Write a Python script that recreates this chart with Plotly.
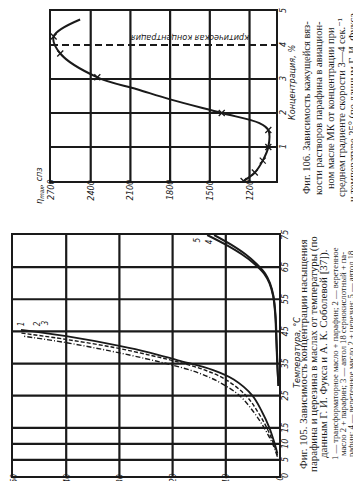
import plotly.graph_objects as go

# ---------------- Fig. 106: apparent viscosity vs paraffin concentration ----------------
conc106 = [0.0, 0.25, 0.6, 1.0, 1.5, 1.7, 2.0, 2.4, 2.7, 3.05, 3.75, 4.25, 4.75]
visc106 = [1245, 1160, 1100, 1058, 1058, 1125, 1410, 1800, 2050, 2350, 2630, 2680, 2480]
mark_conc106 = [0.0, 0.25, 0.6, 1.0, 1.5, 2.0, 3.05, 3.75, 4.25]
mark_visc106 = [1245, 1160, 1100, 1058, 1058, 1410, 2350, 2630, 2680]
visc_ticks = [2700, 2400, 2100, 1800, 1500, 1200]
conc106_ticks = [1, 2, 3, 4, 5]
critical_conc = 4

# ---------------- Fig. 105: saturation concentration vs temperature ----------------
temp_1 = [7, 10, 15, 20, 25, 30, 33, 36, 38.5, 40.5, 43.5, 45.5]
conc_1 = [0.3, 0.8, 1.8, 3.2, 5.0, 8.5, 12.5, 19, 24.5, 30, 40, 48.5]
temp_2 = [6.5, 10, 15, 20, 25, 30, 33, 35.5, 37.5, 40, 42.5, 44.5]
conc_2 = [0.3, 1.0, 2.3, 4.0, 6.2, 10, 14, 19, 24, 31, 40, 48.5]
temp_3 = [6, 10, 15, 20, 25, 29, 32, 34.5, 36.5, 39, 41.5, 43.5]
conc_3 = [0.3, 1.2, 2.8, 4.8, 7.4, 11, 15, 20, 25, 32, 40, 48]
temp_4 = [28, 34, 42, 50, 56, 60, 63, 66, 69, 72, 75]
conc_4 = [0.1, 0.3, 0.5, 0.7, 1.1, 1.8, 2.8, 4.6, 7.0, 10.0, 13.5]
temp_5 = [28, 34, 42, 50, 56, 60, 63, 66, 69, 72, 75]
conc_5 = [0.1, 0.28, 0.45, 0.65, 1.05, 1.7, 2.6, 4.2, 6.3, 9.0, 12.2]
temp_ticks = [0, 5, 10, 15, 25, 35, 45, 55, 65, 75]
conc105_ticks = [0, 10, 20, 30, 40, 50]

INK = "#1a1a1a"
NARROW = "Liberation Sans Narrow, DejaVu Sans Condensed, sans-serif"
SERIF = "Liberation Serif, DejaVu Serif, serif"
TICKFONT = dict(family=NARROW, size=9, color=INK, style="italic")

W, H = 361, 481
def px(x):
    return x / W
def py(y):
    return 1 - y / H

F105 = dict(x0=5, x1=271, y0=227, y1=468)
F106 = dict(x0=43, x1=268, y0=3, y1=173)

fig = go.Figure()

def grid_trace(xs, ys, xa, ya, width=2.2):
    fig.add_trace(go.Scatter(x=xs, y=ys, mode="lines", xaxis=xa, yaxis=ya, hoverinfo="skip",
                             line=dict(color=INK, width=width), showlegend=False))

# Fig 105 grid
gx, gy = [], []
for v in [10, 20, 30, 40]:
    gx += [v, v, None]; gy += [0, 75, None]
for v in [5, 10, 15, 25, 35, 45, 55, 65]:
    gx += [50, 0, None]; gy += [v, v, None]
grid_trace(gx, gy, "x", "y")
# Fig 106 grid
gx, gy = [], []
for v in [2400, 2100, 1800, 1500, 1200]:
    gx += [v, v, None]; gy += [0, 5, None]
for v in [1, 2, 3]:
    gx += [2700, 1000, None]; gy += [v, v, None]
grid_trace(gx, gy, "x2", "y2")

# Fig 105 curves
fig.add_trace(go.Scatter(x=conc_1, y=temp_1, mode="lines", line=dict(color=INK, width=1.8, shape="spline"),
                         xaxis="x", yaxis="y", showlegend=False))
fig.add_trace(go.Scatter(x=conc_2, y=temp_2, mode="lines", line=dict(color=INK, width=1.4, dash="4px,2px", shape="spline"),
                         xaxis="x", yaxis="y", showlegend=False))
fig.add_trace(go.Scatter(x=conc_3, y=temp_3, mode="lines", line=dict(color=INK, width=1.4, dash="5px,2px,1px,2px", shape="spline"),
                         xaxis="x", yaxis="y", showlegend=False))
fig.add_trace(go.Scatter(x=conc_4, y=temp_4, mode="lines", line=dict(color=INK, width=2.0, shape="spline"),
                         xaxis="x", yaxis="y", showlegend=False))
fig.add_trace(go.Scatter(x=conc_5, y=temp_5, mode="lines", line=dict(color=INK, width=2.0, shape="spline"),
                         xaxis="x", yaxis="y", showlegend=False))

# Fig 106 curve
fig.add_trace(go.Scatter(x=visc106, y=conc106, mode="lines", line=dict(color=INK, width=2.0, shape="spline"),
                         xaxis="x2", yaxis="y2", showlegend=False))
fig.add_trace(go.Scatter(x=mark_visc106, y=mark_conc106, mode="markers",
                         marker=dict(symbol="x-thin", size=6, line=dict(color=INK, width=1.3)),
                         xaxis="x2", yaxis="y2", showlegend=False))

axis_common = dict(showline=True, linecolor=INK, linewidth=2.4, mirror=True,
                   showgrid=False, zeroline=False, showticklabels=False, ticks="")

fig.update_layout(
    width=W, height=H,
    margin=dict(l=0, r=0, t=0, b=0),
    paper_bgcolor="white", plot_bgcolor="white",
    xaxis=dict(domain=[px(F105["x0"]), px(F105["x1"])], range=[50, 0], anchor="y", **axis_common),
    yaxis=dict(domain=[py(F105["y1"]), py(F105["y0"])], range=[0, 75], anchor="x", **axis_common),
    xaxis2=dict(domain=[px(F106["x0"]), px(F106["x1"])], range=[2700, 1000], anchor="y2", **axis_common),
    yaxis2=dict(domain=[py(F106["y1"]), py(F106["y0"])], range=[0, 5], anchor="x2", **axis_common),
)

fig.add_shape(type="line", xref="x2", yref="y2", x0=2700, x1=880, y0=critical_conc, y1=critical_conc,
              line=dict(color=INK, width=1.9, dash="7px,4px"))
fig.add_annotation(x=1650, y=critical_conc, xref="x2", yref="y2", yshift=7,
                   text="критическая концентрация", showarrow=False, textangle=180,
                   font=dict(family=NARROW, size=9, color=INK, style="italic"))

# tick labels (rotated like the scanned page)
for v in conc105_ticks:
    fig.add_annotation(x=v, y=py(470.5), xref="x", yref="paper", text=str(v), showarrow=False,
                       textangle=-90, xanchor="center", yanchor="middle", borderpad=0,
                       font=dict(TICKFONT, size=8.5))
for v in temp_ticks:
    fig.add_annotation(x=px(277), y=v, xref="paper", yref="y", text=str(v), showarrow=False,
                       textangle=-90, xanchor="center", yanchor="middle", borderpad=0, font=TICKFONT)
for v in visc_ticks:
    fig.add_annotation(x=v, y=py(182), xref="x2", yref="paper", text=str(v), showarrow=False,
                       textangle=-90, xanchor="center", yanchor="middle", borderpad=0, font=TICKFONT)
for v in conc106_ticks:
    fig.add_annotation(x=px(275), y=v, xref="paper", yref="y2", text=str(v), showarrow=False,
                       textangle=-90, xanchor="center", yanchor="middle", borderpad=0, font=TICKFONT)

# axis titles
fig.add_annotation(x=px(31), y=py(178), xref="paper", yref="paper",
                   text="η<sub>max</sub>, спз", showarrow=False, textangle=-90,
                   xanchor="center", yanchor="middle", font=TICKFONT)
fig.add_annotation(x=px(284), y=py(75), xref="paper", yref="paper",
                   text="Концентрация, %", showarrow=False, textangle=-90,
                   xanchor="center", yanchor="middle", font=TICKFONT)
fig.add_annotation(x=px(289), y=py(345), xref="paper", yref="paper",
                   text="Температура, °С", showarrow=False, textangle=-90,
                   xanchor="center", yanchor="middle", font=TICKFONT)

# curve numbers
for txt, xx, yy in [("1", 48.5, 47.5), ("2", 45.5, 47.5), ("3", 44, 47.8), ("4", 13.0, 73.0), ("5", 15.4, 73.3)]:
    fig.add_annotation(x=xx, y=yy, xref="x", yref="y", text=txt, showarrow=False, textangle=-90,
                       font=dict(family=NARROW, size=8, color=INK, style="italic"))

# captions (rotated, one annotation per line)
cap106 = [
    "Фиг. 106. Зависимость кажущейся вяз-",
    "кости растворов парафина в авиацион-",
    "ном масле МК от концентрации при",
    "среднем градиенте скорости 3—4 сек.⁻¹",
    "и температуре 25° (по данным Г. И. Фукса",
    "и Е. В. Цыгановой [38]).",
]
xs106 = [298, 310, 322, 333, 345, 357]
for line, xx in zip(cap106, xs106):
    fig.add_annotation(x=px(xx), y=py(100), xref="paper", yref="paper", text=line,
                       showarrow=False, textangle=-90, xanchor="center", yanchor="middle",
                       font=dict(family=SERIF, size=10.5, color=INK))

cap105 = [
    ("Фиг. 105. Зависимость концентрации насыщения", 295, 11),
    ("парафина и церезина в маслах от температуры (по", 305, 11),
    ("данным Г. И. Фукса и А. К. Соболевой [37]).", 315, 11),
    ("1 — трансформаторное масло + парафин; 2 — веретенное", 327, 8.6),
    ("масло 2 + парафин; 3 — автол 18 сернокислотный + па-", 335, 8.6),
    ("рафин; 4 — веретенное масло 2 + церезин; 5 — автол 18", 343, 8.6),
    ("сернокислотный + церезин.", 351, 8.6),
]
for line, xx, fs in cap105:
    fig.add_annotation(x=px(xx), y=py(346), xref="paper", yref="paper", text=line,
                       showarrow=False, textangle=-90, xanchor="center", yanchor="middle",
                       font=dict(family=SERIF, size=fs, color=INK))

fig.write_html("out.html")
